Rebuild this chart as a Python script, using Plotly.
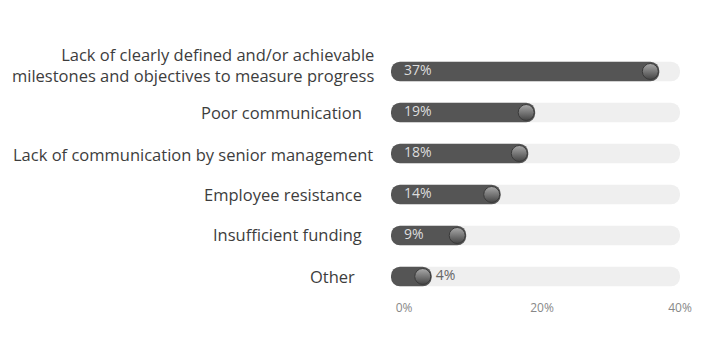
import plotly.graph_objects as go

categories = [
    "Lack of clearly defined and/or achievable<br>milestones and objectives to measure progress",
    "Poor communication",
    "Lack of communication by senior management",
    "Employee resistance",
    "Insufficient funding",
    "Other",
]
values = [37, 19, 18, 14, 9, 4]
axis_max = 40
tick_vals = [0, 20, 40]
tick_text = ["0%", "20%", "40%"]

# layout-only styling (label gaps to the track, label vertical nudge)
label_gap = [15, 27, 16, 27, 27, 34]
label_nudge = [7, 0, -1, 0, 1, 0]

START = -1.9      # rounded left cap of track/bar extends slightly left of zero
KNOB_BACK = 1.3   # knob sits just inside the bar end
OUT_PAD = 0.6     # gap between bar end and outside label
FONT = "Open Sans"
PAGE = 8          # browser body margin offset

fig = go.Figure()

# background track
fig.add_trace(go.Bar(
    y=categories, x=[axis_max - START] * len(categories), base=START,
    orientation="h", width=0.48,
    marker=dict(color="#efefef", cornerradius=10, line=dict(width=0)),
    hoverinfo="skip", showlegend=False,
))

# value bars
fig.add_trace(go.Bar(
    y=categories, x=[v - START for v in values], base=START,
    orientation="h", width=0.48,
    marker=dict(color="#555555", cornerradius=10, line=dict(width=0)),
    hoverinfo="skip", showlegend=False,
))

# knobs
fig.add_trace(go.Scatter(
    y=categories, x=[v - KNOB_BACK for v in values], mode="markers",
    marker=dict(size=16, color="#aaaaaa",
                gradient=dict(type="vertical", color="#444444"),
                line=dict(color="#3a3a3a", width=1)),
    hoverinfo="skip", showlegend=False, cliponaxis=False,
))

# value labels: inside (at the start) when the bar is long enough, otherwise after the bar
inside = [v > 6 for v in values]
fig.add_trace(go.Scatter(
    y=[c for c, ins in zip(categories, inside) if ins],
    x=[0 for ins in inside if ins],
    text=[f"{v}%" for v, ins in zip(values, inside) if ins],
    mode="text", textposition="middle right",
    textfont=dict(color="#dddddd", size=14, family=FONT),
    hoverinfo="skip", showlegend=False, cliponaxis=False,
))
fig.add_trace(go.Scatter(
    y=[c for c, ins in zip(categories, inside) if not ins],
    x=[v + OUT_PAD for v, ins in zip(values, inside) if not ins],
    text=[f"{v}%" for v, ins in zip(values, inside) if not ins],
    mode="text", textposition="middle right",
    textfont=dict(color="#666666", size=14, family=FONT),
    hoverinfo="skip", showlegend=False, cliponaxis=False,
))

for cat, gap, nudge in zip(categories, label_gap, label_nudge):
    fig.add_annotation(
        x=0, xref="paper", y=cat, yref="y", xanchor="right", yanchor="middle",
        xshift=-gap, yshift=nudge, text=cat, showarrow=False, align="right",
        font=dict(size=16.5, color="#3d3d3d", family=FONT),
    )

fig.update_layout(
    width=709, height=356,
    margin=dict(l=391 - PAGE, r=29 + PAGE, t=49 - PAGE, b=57 + PAGE),
    barmode="overlay",
    plot_bgcolor="white", paper_bgcolor="white",
    font=dict(family=FONT),
    xaxis=dict(range=[START, axis_max], tickvals=tick_vals, ticktext=tick_text,
               showgrid=False, zeroline=False, showline=False,
               tickfont=dict(size=12, color="#888888")),
    yaxis=dict(autorange="reversed", showgrid=False, zeroline=False,
               showticklabels=False),
)

fig.write_html("out.html")
